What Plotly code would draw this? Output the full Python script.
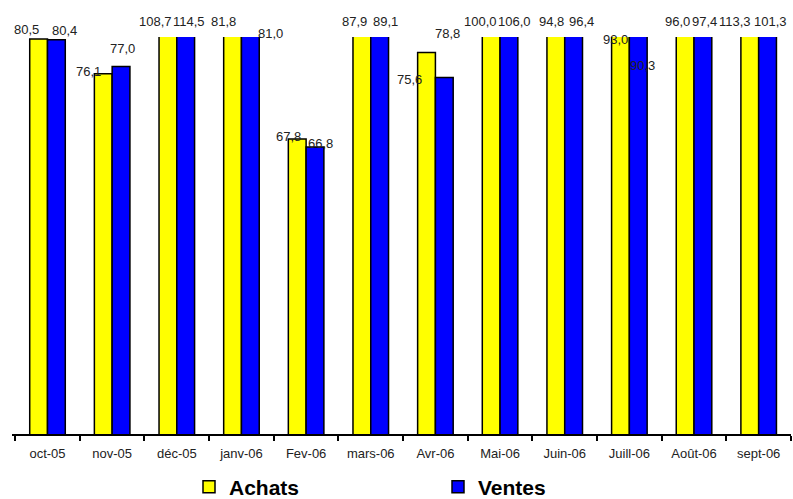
import plotly.graph_objects as go

# Monthly purchase / sales index, Oct 2005 - Sep 2006
mois = ["oct-05", "nov-05", "déc-05", "janv-06", "Fev-06", "mars-06",
        "Avr-06", "Mai-06", "Juin-06", "Juill-06", "Août-06", "sept-06"]
achats = [80.5, 76.1, 108.7, 81.8, 67.8, 87.9, 78.8, 100.0, 94.8, 93.0, 96.0, 113.3]
ventes = [80.4, 77.0, 114.5, 81.0, 66.8, 89.1, 75.6, 106.0, 96.4, 90.3, 97.4, 101.3]
# printed value labels (Avr-06 labels are printed the other way round)
lib_achats = ["80,5", "76,1", "108,7", "81,8", "67,8", "87,9", "75,6", "100,0", "94,8", "93,0", "96,0", "113,3"]
lib_ventes = ["80,4", "77,0", "114,5", "81,0", "66,8", "89,1", "78,8", "106,0", "96,4", "90,3", "97,4", "101,3"]

Y_MIN, Y_MAX = 30.4, 80.75

# label placement tweaks in pixels (x from category centre, y from clipped bar top)
dx_achats = [-21, -24, -21, -18, -18, -16, -26, -20, -13, -14, -17, -24]
dx_ventes = [17, 10, 12, 29, 14, 15, 12, 14, 17, 13, 10, 12]
dy_achats = [9, 2, 16, 16, 3, 16, -27, 16, 16, -2, 16, 16]
dy_ventes = [9, 18, 16, 4, 3, 16, 44, 16, 16, -28, 16, 16]

FONT = "Liberation Sans, Arial, sans-serif"
W, H = 793, 499

fig = go.Figure()
fig.add_trace(go.Bar(name="Achats", x=mois, y=achats, marker_color="#FFFF00",
                     marker_line=dict(color="black", width=1.5),
                     legend="legend", showlegend=True))
fig.add_trace(go.Bar(name="Ventes", x=mois, y=ventes, marker_color="#0000FF",
                     marker_line=dict(color="black", width=1.5),
                     legend="legend2", showlegend=True))

annots = []
for vals, libs, dxs, dys in ((achats, lib_achats, dx_achats, dy_achats),
                             (ventes, lib_ventes, dx_ventes, dy_ventes)):
    for m, v, t, dx, dy in zip(mois, vals, libs, dxs, dys):
        annots.append(dict(x=m, y=min(v, Y_MAX), xref="x", yref="y", text=t,
                           showarrow=False, xanchor="center", yanchor="middle",
                           xshift=dx, yshift=dy,
                           font=dict(family=FONT, size=13, color="#222222")))

legend_style = dict(xref="container", yref="container", xanchor="left", yanchor="middle",
                    orientation="h", bgcolor="rgba(0,0,0,0)", borderwidth=0,
                    font=dict(family=FONT, size=21, color="black", weight="bold"))

fig.update_layout(
    width=W, height=H,
    margin=dict(l=12, r=2, t=37, b=65, autoexpand=False),
    paper_bgcolor="white", plot_bgcolor="white",
    barmode="group", bargap=0.45, bargroupgap=0,
    showlegend=True,
    font=dict(family=FONT, size=13, color="#222222"),
    annotations=annots,
    xaxis=dict(showline=True, linecolor="black", linewidth=2,
               ticks="outside", tickson="boundaries", ticklen=5, tickwidth=2,
               tickcolor="black", showgrid=False, automargin=False,
               ticklabelstandoff=6,
               tickfont=dict(family=FONT, size=13, color="#222222")),
    yaxis=dict(range=[Y_MIN, Y_MAX], visible=False, showgrid=False),
    legend=dict(x=189 / W, y=1 - 487 / H, **legend_style),
    legend2=dict(x=438 / W, y=1 - 487 / H, **legend_style),
)

fig.write_html("out.html")
